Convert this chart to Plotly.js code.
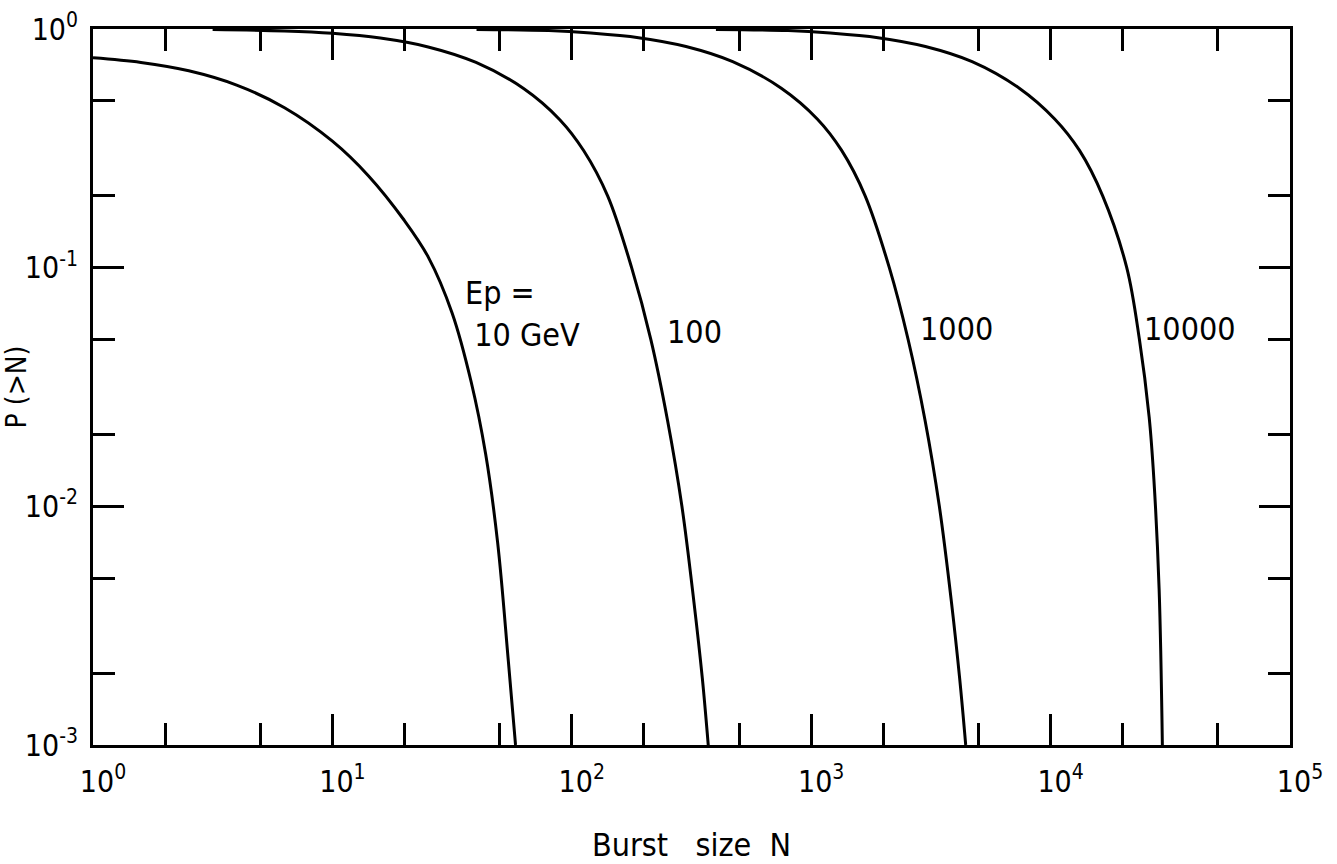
<!DOCTYPE html>
<html><head><meta charset="utf-8">
<script src="https://cdn.plot.ly/plotly-3.0.1.min.js"></script>
<style>html,body{margin:0;padding:0;background:#fff;}#chart{width:1337px;height:864px;}</style>
</head><body><div id="chart"></div>
<script>
// Burst size N and integral probability P(>N) for each primary energy Ep
const n10 = [1, 1.585, 2.512, 3.981, 6.31, 10, 14.13, 19.95, 25.12, 31.62, 38.02, 43.65, 48.98, 54.33, 58.21];
const p10 = [0.757, 0.724, 0.668, 0.582, 0.468, 0.339, 0.243, 0.158, 0.111, 0.0646, 0.0331, 0.0166, 0.00708, 0.00224, 0.001];

const n100 = [3.16, 6.31, 10, 15.85, 25.12, 39.81, 63.1, 89.1, 112.2, 141.3, 177.8, 213.8, 251.2, 288.4, 323.6, 350.8, 371.5];
const p100 = [0.9954, 0.9817, 0.9594, 0.916, 0.841, 0.724, 0.562, 0.417, 0.309, 0.1995, 0.1, 0.0501, 0.0229, 0.01, 0.00398, 0.00191, 0.001];

const n1000 = [40, 80, 120, 190, 300, 470, 750, 1060, 1340, 1680, 2120, 2540, 2990, 3430, 3850, 4170, 4420];
const p1000 = [0.996, 0.985, 0.962, 0.92, 0.845, 0.73, 0.565, 0.42, 0.31, 0.2, 0.1, 0.05, 0.0229, 0.01, 0.004, 0.0019, 0.001];

const n10000 = [400, 800, 1200, 1900, 3000, 4700, 7400, 10400, 13200, 16500, 20800, 23500, 25800, 27000, 28400, 29300];
const p10000 = [0.996, 0.985, 0.962, 0.92, 0.845, 0.73, 0.565, 0.42, 0.31, 0.2, 0.1, 0.05, 0.0237, 0.013, 0.0045, 0.001];

const curveLabels = ["Ep =<br> 10 GeV", "100", "1000", "10000"];

const xMajor = [1, 10, 100, 1000, 10000, 100000];
const xMajorText = ["10<sup>0</sup>", "10<sup>1</sup>", "10<sup>2</sup>", "10<sup>3</sup>", "10<sup>4</sup>", "10<sup>5</sup>"];
const xMinor = [2, 5, 20, 50, 200, 500, 2000, 5000, 20000, 50000];
const yMajor = [1, 0.1, 0.01, 0.001];
const yMajorText = ["10<sup>0</sup>", "10<sup>-1</sup>", "10<sup>-2</sup>", "10<sup>-3</sup>"];
const yMinor = [0.5, 0.2, 0.05, 0.02, 0.005, 0.002];

const xTitle = "Burst\u00a0\u00a0 size\u00a0 N\u00a0\u00a0\u00a0\u00a0\u00a0";
const yTitle = "\u00a0\u00a0\u00a0\u00a0P (>N)";

const FONT = "'DejaVu Sans Condensed', 'DejaVu Sans', sans-serif";

const series = [[n10, p10], [n100, p100], [n1000, p1000], [n10000, p10000]];
const traces = series.map(function (s, i) {
  return {
    x: s[0], y: s[1], type: 'scatter', mode: 'lines',
    line: {color: '#000', width: 3, shape: 'spline', smoothing: 1},
    name: curveLabels[i], hoverinfo: 'x+y'
  };
});

const axisCommon = {
  type: 'log', showline: true, linecolor: '#000', linewidth: 3, mirror: 'allticks',
  ticks: 'inside', ticklen: 31, tickwidth: 3, tickcolor: '#000',
  showgrid: false, zeroline: false,
  tickfont: {family: FONT, size: 30, color: '#000'}
};

const layout = {
  width: 1337, height: 864,
  paper_bgcolor: '#fff', plot_bgcolor: '#fff',
  showlegend: false,
  margin: {l: 93, r: 47, t: 29, b: 119},
  xaxis: Object.assign({}, axisCommon, {
    range: [0, 5], tickmode: 'array', tickvals: xMajor, ticktext: xMajorText,
    ticklabelshift: 10, ticklabelstandoff: 8,
    minor: {tickmode: 'array', tickvals: xMinor, ticks: 'inside', ticklen: 22, tickwidth: 3, tickcolor: '#000', showgrid: false},
    title: {text: xTitle, font: {family: FONT, size: 32, color: '#000'}, standoff: 42}
  }),
  yaxis: Object.assign({}, axisCommon, {
    range: [-3, 0], tickmode: 'array', tickvals: yMajor, ticktext: yMajorText,
    ticklabelstandoff: 6,
    minor: {tickmode: 'array', tickvals: yMinor, ticks: 'inside', ticklen: 22, tickwidth: 3, tickcolor: '#000', showgrid: false},
    title: {text: yTitle, font: {family: FONT, size: 28, color: '#000'}, standoff: 8}
  }),
  annotations: [
    {x: 1.545, y: -1.02, xref: 'x', yref: 'y', text: curveLabels[0], showarrow: false, xanchor: 'left', yanchor: 'top', align: 'left', font: {family: FONT, size: 32, color: '#000'}},
    {x: 2.39, y: -1.18, xref: 'x', yref: 'y', text: curveLabels[1], showarrow: false, xanchor: 'left', yanchor: 'top', font: {family: FONT, size: 32, color: '#000'}},
    {x: 3.445, y: -1.17, xref: 'x', yref: 'y', text: curveLabels[2], showarrow: false, xanchor: 'left', yanchor: 'top', font: {family: FONT, size: 32, color: '#000'}},
    {x: 4.38, y: -1.17, xref: 'x', yref: 'y', text: curveLabels[3], showarrow: false, xanchor: 'left', yanchor: 'top', font: {family: FONT, size: 32, color: '#000'}}
  ]
};

Plotly.newPlot('chart', traces, layout, {displayModeBar: false, staticPlot: true});
</script>
</body></html>
